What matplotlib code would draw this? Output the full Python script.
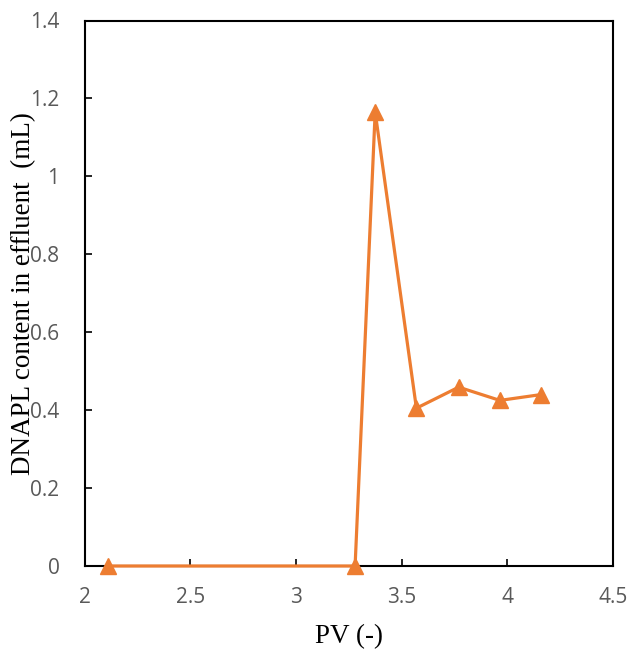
import matplotlib
matplotlib.use("Agg")
import matplotlib.pyplot as plt

pv = [2.11, 3.28, 3.375, 3.57, 3.77, 3.965, 4.16]
dnapl = [0.0, 0.0, 1.165, 0.405, 0.459, 0.425, 0.440]
xticks = [2, 2.5, 3, 3.5, 4, 4.5]
yticks = [0, 0.2, 0.4, 0.6, 0.8, 1.0, 1.2, 1.4]
ytick_labels = ["0", "0.2", "0.4", "0.6", "0.8", "1", "1.2", "1.4"]

orange = "#ED7D31"
grey = "#595959"

fig = plt.figure(figsize=(6.32, 6.52), dpi=100)
ax = fig.add_axes([84.5 / 632, 1 - 566 / 652, (613 - 84.5) / 632, (566 - 20.5) / 652])

ax.plot(pv, dnapl, color=orange, lw=2.3, marker="^", ms=11, mec=orange, mfc=orange,
        clip_on=False, zorder=5)

ax.set_xlim(2, 4.5)
ax.set_ylim(0, 1.4)
ax.set_xticks(xticks)
ax.set_xticklabels([f"{t:g}" for t in xticks])
ax.set_yticks(yticks)
ax.set_yticklabels(ytick_labels)
ax.tick_params(direction="in", length=5, width=1.2, color="black", labelcolor=grey,
               labelsize=15)
ax.tick_params(axis="x", pad=15)
ax.tick_params(axis="y", pad=18)
for lbl in ax.get_xticklabels() + ax.get_yticklabels():
    lbl.set_family("Open Sans")
for s in ax.spines.values():
    s.set_linewidth(1.5)

ax.set_xlabel("PV (-)", family="Liberation Serif", fontsize=19.5, labelpad=12)
ax.set_ylabel("DNAPL content in effluent  (mL)", family="Liberation Serif", fontsize=19.5, labelpad=-4)

fig.savefig("out.png", dpi=100)
